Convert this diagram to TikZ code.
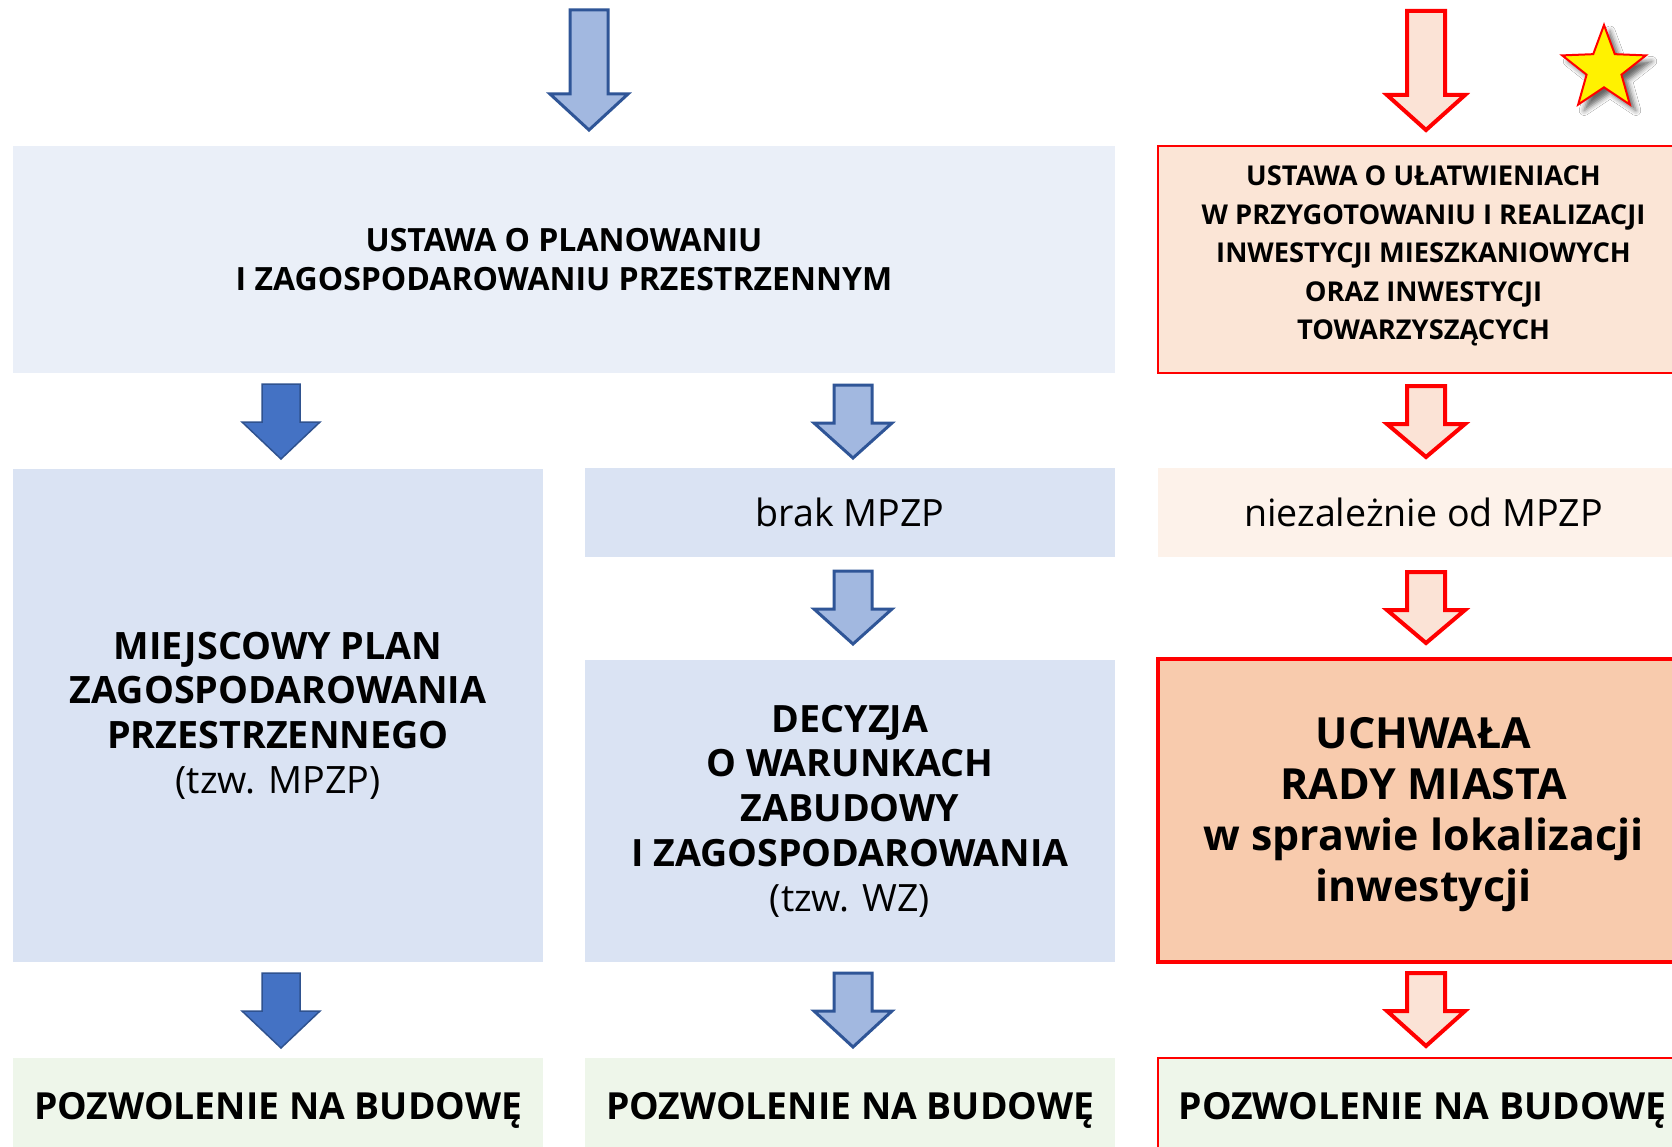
\documentclass[tikz,border=0pt]{standalone}
\usepackage{fontspec}
\setmainfont{Open Sans}
\usetikzlibrary{shapes.geometric,shadows.blur}
\definecolor{boxtop}{HTML}{EAEFF8}
\definecolor{boxblue}{HTML}{DAE3F3}
\definecolor{redtop}{HTML}{FBE5D6}
\definecolor{redlight}{HTML}{FDF2EA}
\definecolor{reddark}{HTML}{F8CBAD}
\definecolor{greenbox}{HTML}{EEF6EA}
\definecolor{arrlight}{HTML}{A2B8E0}
\definecolor{arrlightdraw}{HTML}{2F5597}
\definecolor{arrdark}{HTML}{4472C4}
\definecolor{arrdarkdraw}{HTML}{2F528F}
\definecolor{arrred}{HTML}{FBE3D6}
\definecolor{pureRed}{HTML}{FF0000}
\tikzset{
  boxnode/.style={inner sep=0pt, outer sep=0pt, align=center, text=black},
  lightarr/.style={fill=arrlight, draw=arrlightdraw, line width=3pt},
  darkarr/.style={fill=arrdark, draw=arrdarkdraw, line width=1.5pt},
  redarr/.style={fill=arrred, draw=pureRed, line width=4pt},
}
\newcommand\DArr[5]{%
  \draw[#1] (#2-19,#3) -- (#2+19,#3) -- (#2+19,#4) -- (#2+39,#4) -- (#2,#5) -- (#2-39,#4) -- (#2-19,#4) -- cycle;}
\begin{document}
\begin{tikzpicture}[x=1pt,y=-1pt]
\useasboundingbox (0,0) rectangle (1672,1147);
\clip (0,0) rectangle (1672,1147);
\fill[white] (0,0) rectangle (1672,1147);

% top row arrows and star
\DArr{lightarr}{589}{10}{94}{130}
\DArr{redarr}{1426}{11}{95}{130}
\node[star, star points=5, star point ratio=2.4, minimum size=88pt, inner sep=0pt,
      fill=yellow, draw=pureRed, line width=2pt,
      blur shadow={shadow xshift=6pt, shadow yshift=-6pt, shadow blur radius=5pt, shadow opacity=60}] (star) at (1604,69) {};

% top boxes
\node[boxnode, fill=boxtop, minimum width=1102pt, minimum height=227pt,
      font=\bfseries\fontsize{32}{39.5}\selectfont] (ustawa1) at (564,259.5)
  {USTAWA O PLANOWANIU\\I ZAGOSPODAROWANIU PRZESTRZENNYM};
\node[boxnode, fill=redtop, draw=pureRed, line width=2pt, minimum width=536pt, minimum height=227pt] (ustawa2) at (1426,259.5) {};
\node[boxnode, font=\bfseries\fontsize{27.3}{38.4}\selectfont] (ustawa2text) at (1423.5,256)
  {USTAWA O UŁATWIENIACH\\W PRZYGOTOWANIU I REALIZACJI\\INWESTYCJI MIESZKANIOWYCH\\ORAZ INWESTYCJI\\TOWARZYSZĄCYCH};

% second row arrows
\DArr{darkarr}{281}{384}{422}{459}
\DArr{lightarr}{853}{385}{423}{458}
\DArr{redarr}{1426}{386}{424}{457}

% middle boxes
\node[boxnode, fill=boxblue, minimum width=530pt, minimum height=493pt,
      font=\fontsize{37.7}{44.7}\selectfont] (mpzp) at (278,715.5)
  {\textbf{MIEJSCOWY PLAN}\\\textbf{ZAGOSPODAROWANIA}\\\textbf{PRZESTRZENNEGO}\\(tzw. MPZP)};
\node[boxnode, fill=boxblue, minimum width=530pt, minimum height=89pt,
      font=\fontsize{37.6}{44}\selectfont] (brak) at (850,512.5) {brak MPZP};
\node[boxnode, fill=redlight, minimum width=536pt, minimum height=89pt] (niez) at (1426,512.5) {};
\node[boxnode, font=\fontsize{37.6}{44}\selectfont] (nieztext) at (1423.5,512.5) {niezależnie od MPZP};

% third row arrows
\DArr{lightarr}{853}{571}{609}{644}
\DArr{redarr}{1426}{572}{610}{643}

\node[boxnode, fill=boxblue, minimum width=530pt, minimum height=302pt,
      font=\fontsize{37.6}{44.7}\selectfont] (wz) at (850,811)
  {\textbf{DECYZJA}\\\textbf{O WARUNKACH}\\\textbf{ZABUDOWY}\\\textbf{I ZAGOSPODAROWANIA}\\(tzw. WZ)};
\node[boxnode, fill=reddark, draw=pureRed, line width=4pt, minimum width=536pt, minimum height=303pt] (uchwala) at (1426,810.5) {};
\node[boxnode, font=\bfseries\fontsize{42.9}{51}\selectfont] (uchwalatext) at (1423.5,815)
  {UCHWAŁA\\RADY MIASTA\\w sprawie lokalizacji\\inwestycji};

% fourth row arrows
\DArr{darkarr}{281}{973}{1011}{1048}
\DArr{lightarr}{853}{973}{1011}{1047}
\DArr{redarr}{1426}{973}{1011}{1046}

% bottom boxes
\tikzset{pnb/.style={boxnode, minimum height=104pt, font=\bfseries\fontsize{37.3}{44}\selectfont}}
\node[pnb, fill=greenbox, minimum width=530pt] (pnb1) at (278,1110) {POZWOLENIE NA BUDOWĘ};
\node[pnb, fill=greenbox, minimum width=530pt] (pnb2) at (850,1110) {POZWOLENIE NA BUDOWĘ};
\node[boxnode, fill=greenbox, draw=pureRed, line width=2pt, minimum width=536pt, minimum height=104pt] (pnb3) at (1426,1110) {};
\node[pnb, minimum height=0pt] (pnb3text) at (1422.5,1110) {POZWOLENIE NA BUDOWĘ};
\end{tikzpicture}
\end{document}
